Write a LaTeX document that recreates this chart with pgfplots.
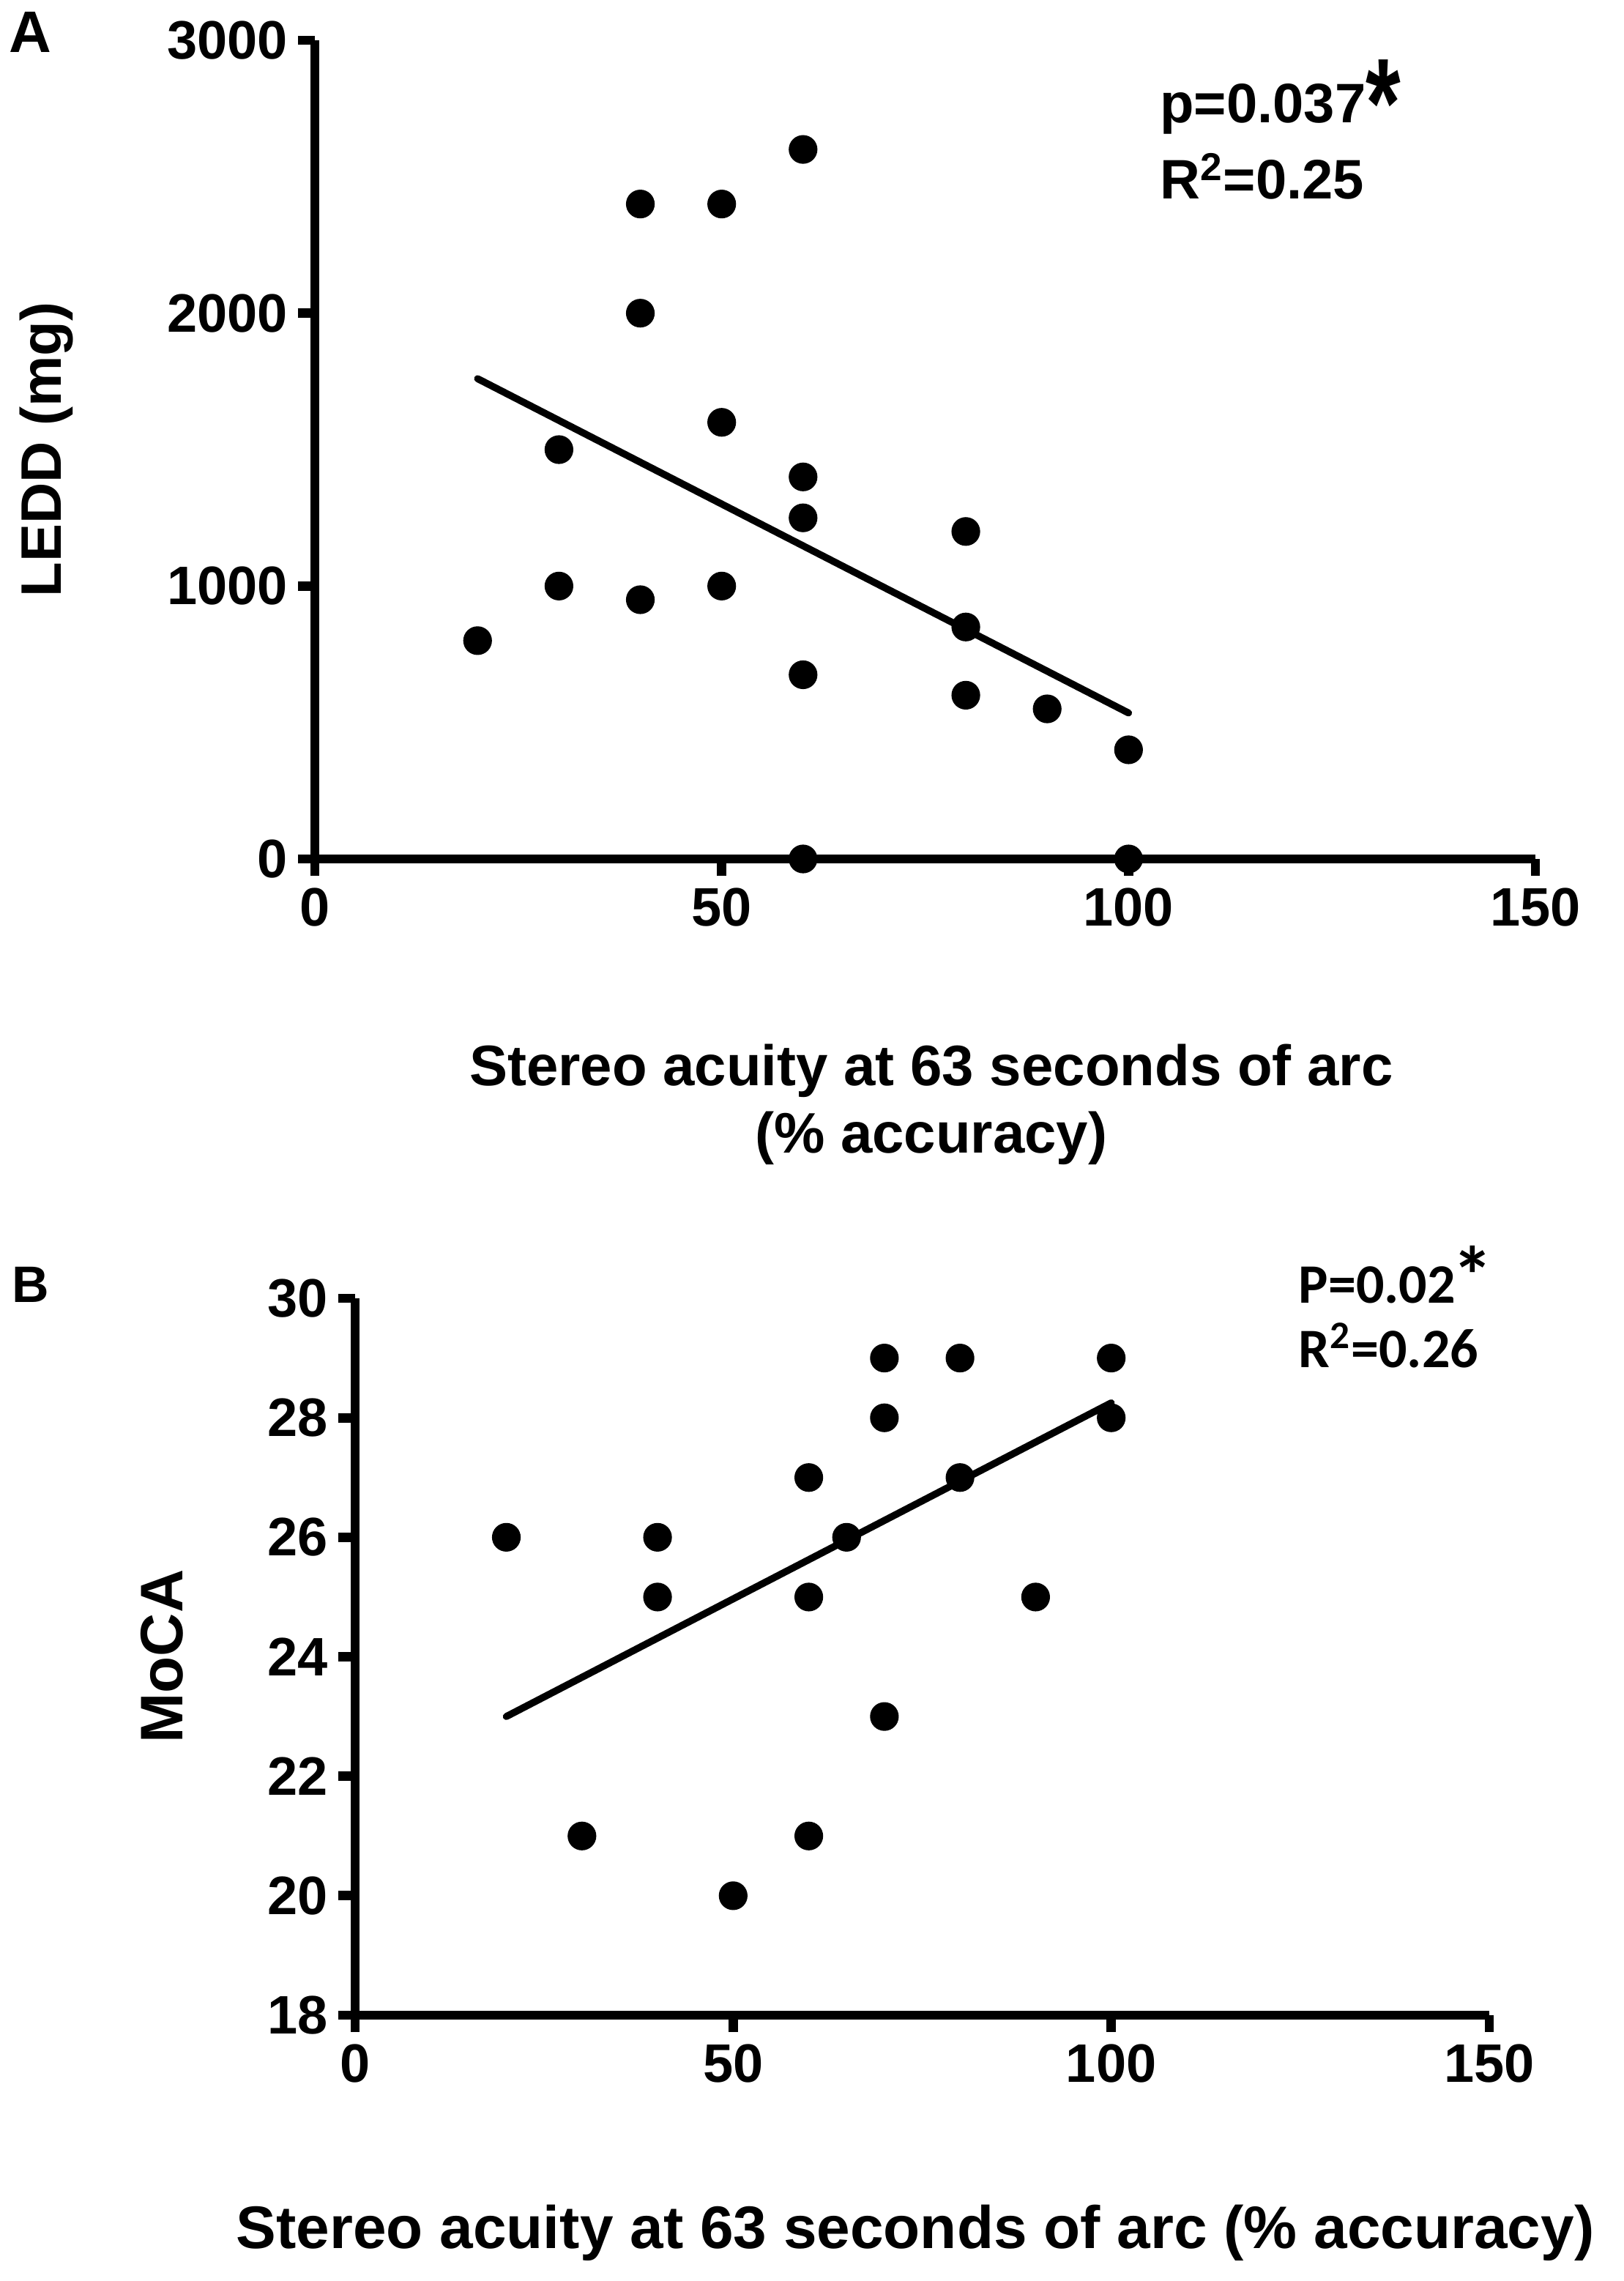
\documentclass[border=0pt]{standalone}
\usepackage{fontspec}
\setmainfont{Liberation Sans}
\newfontfamily\carlito{Carlito}
\usepackage{pgfplots}
\pgfplotsset{compat=1.18}
\begin{document}
\begin{tikzpicture}[font=\bfseries]
\useasboundingbox (0,0) rectangle (554.25pt,-778.75pt);
\pgfplotsset{
 every axis/.append style={
  scale only axis,
  axis x line=bottom, axis y line=left,
  axis line style={line width=3.2pt,-},
  tick style={line width=3.2pt,black},
  tick align=outside,
  major tick length=5.8pt,
  ticklabel style={font=\fontsize{18.5}{20}\selectfont\bfseries},
  /pgf/number format/assume math mode=true,
  /pgf/number format/1000 sep={},
  clip=false,
  xtick={0,50,100,150},
  xmin=0, xmax=150,
  label style={font=\fontsize{19.5}{23}\selectfont\bfseries},
  xticklabel style={yshift=-0.5pt},
  yticklabel style={xshift=0pt},
 }
}
% Panel A
\begin{axis}[at={(107.5pt,-293.25pt)}, anchor=south west,
  width=416.75pt, height=279.5pt,
  ymin=0, ymax=3000, ytick={0,1000,2000,3000},
  xlabel style={at={(axis description cs:0.505,-0.3),}, anchor=center, align=center},
  xlabel={Stereo acuity at 63 seconds of arc\\(\% accuracy)},
  ylabel style={at={(axis description cs:-0.2196,0.5)}, anchor=center, rotate=0},
  ylabel={LEDD (mg)},
]
\addplot[only marks, mark=*, mark size=4.7pt, black] coordinates {
(20,800) (30,1500) (30,1000) (40,2400) (40,2000) (40,950)
(50,2400) (50,1600) (50,1000)
(60,2600) (60,1400) (60,1250) (60,675) (60,0)
(80,1200) (80,850) (80,600) (90,550) (100,400) (100,0)};
\addplot[line width=2.4pt, line cap=round, black, no marks] coordinates {(20,1760) (100,535)};
\node[anchor=base west, inner sep=0pt, font=\fontsize{19}{20}\selectfont\bfseries] at (axis description cs:0.692,0.899) {p=0.037\raisebox{-8.2pt}{\scalebox{0.85}[1.2]{\fontsize{36}{36}\selectfont *}}};
\node[anchor=base west, inner sep=0pt, font=\fontsize{19}{20}\selectfont\bfseries] at (axis description cs:0.692,0.806) {R\textsuperscript{2}=0.25};
\node[anchor=base west, inner sep=0pt, font=\fontsize{20}{20}\selectfont\bfseries] at (axis description cs:-0.251,0.9857) {A};
\end{axis}
% Panel B
\begin{axis}[at={(121.25pt,-688pt)}, anchor=south west,
  width=387.25pt, height=244.75pt,
  ymin=18, ymax=30, ytick={18,20,...,30},
  xlabel style={at={(axis description cs:0.494,-0.325)}, anchor=base, font=\fontsize{20.5}{22}\selectfont\bfseries},
  xlabel={Stereo acuity at 63 seconds of arc (\% accuracy)},
  ylabel style={at={(axis description cs:-0.170,0.5005)}, anchor=center, rotate=0, font=\fontsize{20.5}{22}\selectfont\bfseries},
  ylabel={MoCA},
]
\addplot[only marks, mark=*, mark size=4.7pt, black] coordinates {
(20,26) (30,21) (40,26) (40,25) (50,20) (60,27) (60,25) (60,21)
(65,26) (70,29) (70,28) (70,23) (80,29) (80,27) (90,25) (100,29) (100,28)};
\addplot[line width=2.4pt, line cap=round, black, no marks] coordinates {(20,23.0) (100,28.25)};
\node[anchor=base west, inner sep=0pt, font=\fontsize{19}{20}\selectfont\carlito\bfseries] at (axis description cs:0.8315,0.993) {P=0.02\kern-1pt\raisebox{-0.5pt}{\fontsize{28}{28}\selectfont *}};
\node[anchor=base west, inner sep=0pt, font=\fontsize{19}{20}\selectfont\carlito\bfseries] at (axis description cs:0.8315,0.904) {R\textsuperscript{2}=0.26};
\node[anchor=base west, inner sep=0pt, font=\fontsize{17.5}{20}\selectfont\bfseries] at (axis description cs:-0.303,0.994) {B};
\end{axis}
\end{tikzpicture}
\end{document}
